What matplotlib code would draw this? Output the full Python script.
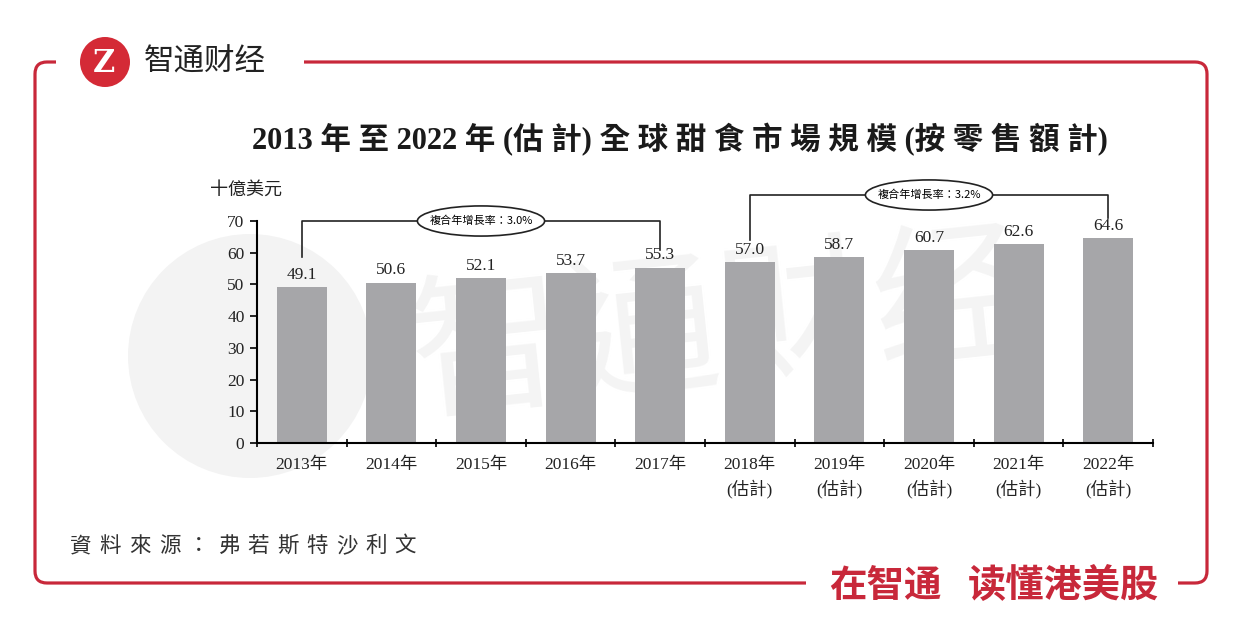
import matplotlib
matplotlib.use("Agg")
import matplotlib.pyplot as plt
import matplotlib.patches as mpatches
import numpy as np

# ── data ──────────────────────────────────────────────────────────────────────
years = ["2013", "2014", "2015", "2016", "2017", "2018", "2019", "2020", "2021", "2022"]
estimated = [False, False, False, False, False, True, True, True, True, True]
values = [49.1, 50.6, 52.1, 53.7, 55.3, 57.0, 58.7, 60.7, 62.6, 64.6]
cagr_labels = ["複合年增長率：3.0%", "複合年增長率：3.2%"]
cagr_spans = [(0, 4), (5, 9)]

TITLE = "2013 年 至 2022 年 (估 計) 全 球 甜 食 市 場 規 模 (按 零 售 額 計)"
SOURCE = "資料來源：弗若斯特沙利文"
UNIT = "十億美元"

RED = "#c8283a"
BAR = "#a6a6a9"
SERIF = ["Liberation Serif", "Noto Sans CJK TC"]
CJK = ["Noto Sans CJK TC", "DejaVu Sans"]

W, H = 1242, 641
fig = plt.figure(figsize=(W / 100, H / 100), dpi=100)
fig.patch.set_facecolor("white")

# ── background layer in pixel coords (frame, logo, watermark) ────────────────
bg = fig.add_axes([0, 0, 1, 1], zorder=0)
bg.set_xlim(0, W)
bg.set_ylim(H, 0)
bg.axis("off")

# watermark
bg.add_patch(mpatches.Circle((250, 356), 122, color="#f3f3f3", lw=0))
bg.text(720, 330, "智通财经", fontsize=112, color="#f4f4f4", ha="center",
        va="center", family=CJK, rotation=6)

# frame
bg.add_patch(mpatches.FancyBboxPatch((35, 62), 1172, 521,
             boxstyle="round,pad=0,rounding_size=12",
             fc="none", ec=RED, lw=2.3))
bg.add_patch(mpatches.Rectangle((56, 55), 248, 14, fc="white", ec="none"))
bg.add_patch(mpatches.Rectangle((806, 576), 372, 14, fc="white", ec="none"))

# logo
bg.add_patch(mpatches.Circle((105, 62), 25, color="#d42a36", lw=0))
bg.text(104, 63, "Z", fontsize=22, color="white", ha="center", va="center",
        fontweight="bold", family="DejaVu Serif")
bg.text(144, 62, "智通财经", fontsize=22, color="#222222", ha="left",
        va="center", family=["Noto Sans CJK SC"])
bg.text(829, 585, "在智通", fontsize=27, color=RED, ha="left",
        va="center", fontweight="bold", family=["Noto Sans CJK SC"])
bg.text(1159, 585, "读懂港美股", fontsize=27.5, color=RED, ha="right",
        va="center", fontweight="bold", family=["Noto Sans CJK SC"])

# title, unit and source
bg.text(680, 140, TITLE, fontsize=22, fontweight="bold", ha="center",
        va="center", family=SERIF, color="#1a1a1a")
bg.text(210, 190, UNIT, fontsize=13, ha="left", va="center", family=CJK,
        color="#222222")
for i, ch in enumerate(SOURCE):
    bg.text(81 + i * 29.5, 546, ch, fontsize=15.5, ha="center", va="center",
            family=CJK, color="#333333")

# ── main chart ───────────────────────────────────────────────────────────────
ax = fig.add_axes([257 / W, 1 - 443 / H, (1153 - 257) / W, (443 - 221) / H],
                  zorder=1)
ax.patch.set_alpha(0)
x = np.arange(len(years))
ax.bar(x, values, width=0.56, color=BAR, zorder=2)
for xi, v in zip(x, values):
    ax.text(xi, v + 1.3, f"{v:.1f}", ha="center", va="bottom", fontsize=12.5,
            family=SERIF, color="#222222")

ax.set_xlim(-0.5, len(years) - 0.5)
ax.set_ylim(0, 70)
ax.set_yticks(np.arange(0, 71, 10))
ax.set_yticklabels([str(t) for t in range(0, 71, 10)], family=SERIF,
                   fontsize=12.5, color="#222222")
ax.set_xticks(x)
ax.set_xticklabels([f"{y}年\n(估計)" if e else f"{y}年"
                    for y, e in zip(years, estimated)],
                   family=SERIF, fontsize=12.5, color="#222222",
                   va="top", linespacing=1.5)
ax.set_xticks(np.arange(-0.5, len(years)), minor=True)
ax.tick_params(axis="x", which="major", length=0, pad=10)
ax.tick_params(axis="x", which="minor", length=6, direction="inout", width=1.2)
ax.tick_params(axis="y", length=5, width=1.2, direction="out", pad=4)
for side in ["top", "right"]:
    ax.spines[side].set_visible(False)
for side in ["left", "bottom"]:
    ax.spines[side].set_linewidth(1.5)

# CAGR brackets
bracket_geom = [(58.5, 61.0, 70.0), (64.0, 71.0, 78.2)]
for (a, b), (ya, yb, top), lab in zip(cagr_spans, bracket_geom, cagr_labels):
    ax.plot([a, a, b, b], [ya, top, top, yb], color="#222222", lw=1.2,
            clip_on=False, zorder=3)
    cx = (a + b) / 2
    ax.add_patch(mpatches.Ellipse((cx, top), 1.42, 9.5, fc="white",
                 ec="#222222", lw=1.2, clip_on=False, zorder=4))
    ax.text(cx, top, lab, fontsize=8, ha="center", va="center",
            family=CJK, zorder=5)

fig.savefig("out.png", dpi=100)
